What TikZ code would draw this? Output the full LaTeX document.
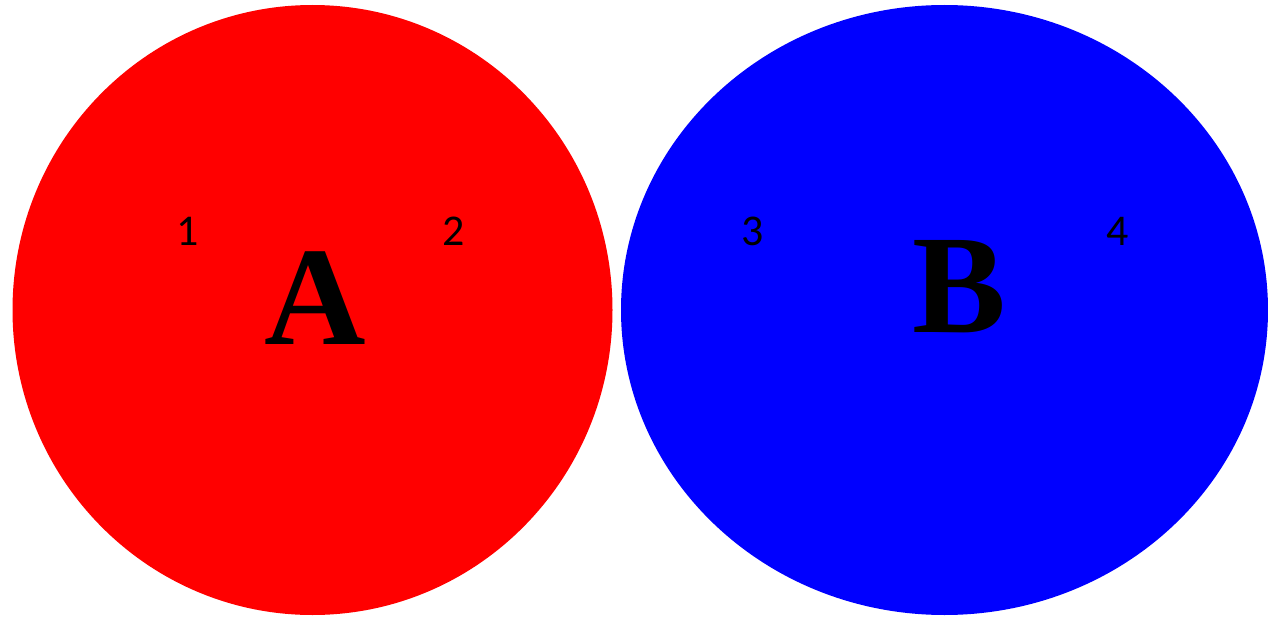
\documentclass[tikz,border=0pt]{standalone}
\usepackage{fontspec}
\setmainfont{Liberation Serif}
\newfontfamily\numfont{Carlito}
\usepackage{tikz}
\usetikzlibrary{calc}

\begin{document}
\begin{tikzpicture}[
        setA/.style={fill={rgb,255:red,255;green,0;blue,0}, draw=none},
        setB/.style={fill={rgb,255:red,0;green,0;blue,255}, draw=none},
        num/.style={anchor=base, inner sep=0pt, font=\numfont\fontsize{25}{28}\selectfont},
        big/.style={anchor=base, inner sep=0pt, font=\bfseries\fontsize{80}{84}\selectfont}
    ]
                \useasboundingbox (0,0) rectangle (25.36,12.4);
                \coordinate (OA) at (6.25,6.2);
                \coordinate (OB) at (18.89,6.2);
                \fill[setA] (OA) ellipse [x radius=6.0, y radius=6.1];
                \fill[setB] (OB) ellipse [x radius=6.47, y radius=6.1];
                \node[num] (n1) at (3.76,7.5) {1};
                \node[num] (n2) at (9.08,7.5) {2};
                \node[num] (n3) at (15.06,7.5) {3};
                \node[num] (n4) at (22.36,7.5) {4};
                \node[big] (labA) at (6.3,5.52) {A};
                \node[big] (labB) at (19.18,5.76) {B};
            \end{tikzpicture}
\end{document}
